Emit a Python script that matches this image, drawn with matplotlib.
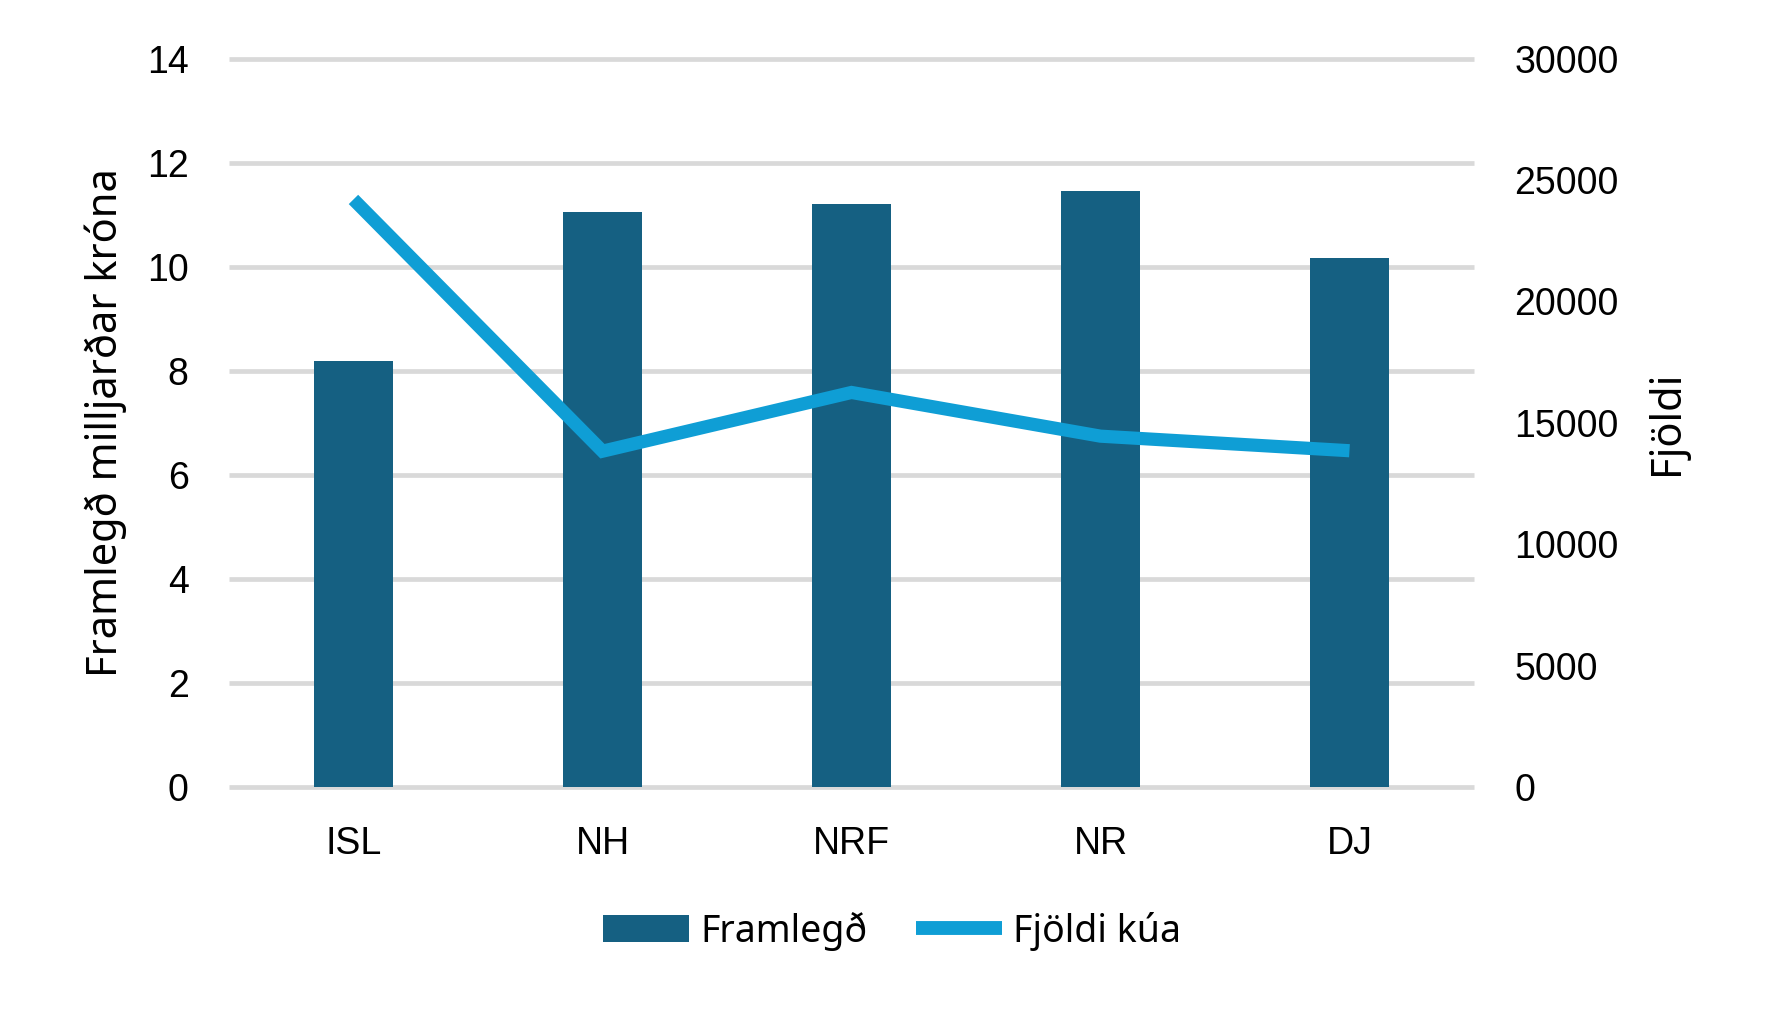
import matplotlib.pyplot as plt
from matplotlib.patches import Patch
from matplotlib.lines import Line2D

# data
svaedi = ['ISL', 'NH', 'NRF', 'NR', 'DJ']
framlegd = [8.18, 11.05, 11.2, 11.45, 10.16]      # milljarðar króna
fjoldi_kua = [24200, 13830, 16250, 14450, 13850]

bar_color = '#156082'
line_color = '#0F9ED5'
grid_color = '#D9D9D9'
tick_font = 'Liberation Sans'
label_font = 'Noto Sans'

fig = plt.figure(figsize=(17.68, 10.16), dpi=100)
ax = fig.add_axes([0.1295, 0.2254, 0.7042, 0.7169])
ax2 = ax.twinx()

x = list(range(len(svaedi)))
ax.bar(x, framlegd, width=0.317, color=bar_color, zorder=2)
ax2.plot(x, fjoldi_kua, color=line_color, linewidth=9.5,
         solid_capstyle='butt', solid_joinstyle='miter', zorder=3)

ax.set_xlim(-0.5, 4.5)
ax.set_ylim(0, 14)
ax.set_yticks(range(0, 15, 2))
ax2.set_ylim(0, 30000)
ax2.set_yticks(range(0, 30001, 5000))

ax.set_axisbelow(True)
ax.yaxis.grid(True, color=grid_color, linewidth=3.4)
for gl in ax.yaxis.get_gridlines():
    gl.set_clip_on(False)
    gl.set_solid_capstyle('butt')

for a in (ax, ax2):
    for s in a.spines.values():
        s.set_visible(False)
    a.tick_params(length=0, labelsize=27, colors='black')

ax.tick_params(axis='y', pad=29)
ax2.tick_params(axis='y', pad=29)
ax.tick_params(axis='x', pad=28)
ax.set_xticks(x)
ax.set_xticklabels(svaedi)
for lbl in ax.get_xticklabels() + ax.get_yticklabels() + ax2.get_yticklabels():
    lbl.set_fontfamily(tick_font)

fig.text(106 / 1768, 1 - 423 / 1016, 'Framlegð milljarðar króna', rotation=90,
         ha='center', va='center', fontsize=30, family=label_font)
fig.text(1667 / 1768, 1 - 423 / 1016, 'Fjöldi', rotation=90,
         ha='center', va='center', fontsize=30, family=label_font)

handles = [Patch(facecolor=bar_color),
           Line2D([0], [0], color=line_color, linewidth=10, solid_capstyle='butt')]
fig.legend(handles, ['Framlegð', 'Fjöldi kúa'], loc='center', ncol=2,
           bbox_to_anchor=(0.5045, 1 - 931 / 1016), frameon=False,
           prop={'family': label_font, 'size': 27},
           handlelength=2.3, handleheight=0.7, handletextpad=0.3, columnspacing=1.3)

fig.savefig('out.png', dpi=100)
